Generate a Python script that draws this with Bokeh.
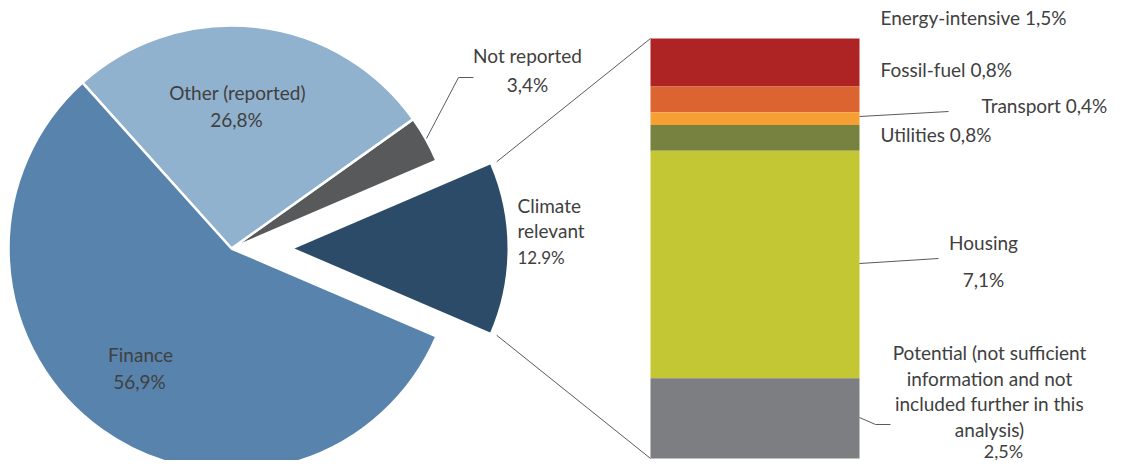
import numpy as np
from bokeh.plotting import figure
from bokeh.models import Range1d
from bokeh.core.properties import value
from bokeh.embed import file_html
from bokeh.resources import INLINE

# ---- data ----
pie_labels = ["Climate relevant", "Not reported", "Other (reported)", "Finance"]
pie_values = [12.9, 3.4, 26.8, 56.9]
pie_pct_text = ["12.9%", "3,4%", "26,8%", "56,9%"]
pie_colors = ["#2B4B69", "#58595B", "#91B2CE", "#5783AC"]

bar_labels = ["Energy-intensive", "Fossil-fuel", "Transport", "Utilities", "Housing",
              "Potential (not sufficient\ninformation and not\nincluded further in this\nanalysis)"]
bar_values = [1.5, 0.8, 0.4, 0.8, 7.1, 2.5]
bar_pct_text = ["1,5%", "0,8%", "0,4%", "0,8%", "7,1%", "2,5%"]
bar_colors = ["#AE2323", "#DC6430", "#F6A033", "#778140", "#C2C733", "#7D7E82"]

# ---- layout (pixel-like data units, y up; H = reference height) ----
H = 476
W, Hf = 1108, 460
X0, Y0 = 5, 3          # reference pixel shown at the figure's top-left corner
FONT = "Lato"
TXT = "#404040"
LINE = "#5a5a5a"

p = figure(width=W, height=Hf, output_backend="svg", toolbar_location=None,
           x_range=Range1d(X0, X0 + W), y_range=Range1d(H - Y0 - Hf, H - Y0),
           min_border=0, outline_line_color=None)
p.axis.visible = False
p.grid.visible = False
p.background_fill_color = "white"
p.border_fill_color = "white"

def Y(yref):
    return H - yref

# pie geometry
cx, cy = 236, Y(251)
R = 223
R_exp = 213
explode = 63

vals = np.array(pie_values, dtype=float)
angs = vals / vals.sum() * 2 * np.pi
start0 = -angs[0] / 2
starts = start0 + np.concatenate([[0], np.cumsum(angs)[:-1]])
ends = starts + angs

# exploded climate slice
mid0 = (starts[0] + ends[0]) / 2
ex, ey = cx + explode * np.cos(mid0), cy + explode * np.sin(mid0)
p.wedge(x=ex, y=ey, radius=R_exp, start_angle=starts[0], end_angle=ends[0],
        fill_color=pie_colors[0], line_color=None)
# other slices
p.wedge(x=[cx] * 3, y=[cy] * 3, radius=R, start_angle=list(starts[1:]), end_angle=list(ends[1:]),
        fill_color=pie_colors[1:], line_color="white", line_width=2.5)

# stacked bar
bx0, bx1 = 655, 864
bar_top = Y(41)
scale = 32.06  # px per percentage point
bv = np.array(bar_values, dtype=float)
tops = bar_top - np.concatenate([[0], np.cumsum(bv)[:-1]]) * scale
bottoms = tops - bv * scale
p.quad(left=bx0, right=bx1, top=list(tops), bottom=list(bottoms),
       fill_color=bar_colors, line_color=None)

# connectors from exploded slice to bar
rc = R_exp + 7
p.line([ex + rc * np.cos(ends[0]), bx0], [ey + rc * np.sin(ends[0]), tops[0]],
       line_color=LINE, line_width=1)
p.line([ex + rc * np.cos(starts[0]), bx0], [ey + rc * np.sin(starts[0]), bottoms[-1]],
       line_color=LINE, line_width=1)

# leader lines
p.line([431, 463, 478], [Y(141), Y(80), Y(80)], line_color=LINE, line_width=1)          # Not reported
p.line([bx1, 953], [Y(119), Y(114)], line_color=LINE, line_width=1)                    # Transport
p.line([bx1, 943], [Y(266), Y(261)], line_color=LINE, line_width=1)                    # Housing
p.line([bx1, 880, 895], [Y(420), Y(427), Y(427)], line_color=LINE, line_width=1)       # Potential

def txt(x, y, s, align="center", size="19px"):
    p.text(x=[x], y=[y], text=[s], text_font=value(FONT), text_font_size=size,
           text_color=TXT, text_align=align, text_baseline="middle")

# pie labels
txt(242, Y(95), pie_labels[2]); txt(241, Y(122), pie_pct_text[2])
txt(532, Y(58), pie_labels[1]); txt(532, Y(87), pie_pct_text[1])
txt(145, Y(357), pie_labels[3]); txt(144, Y(384), pie_pct_text[3])
clim = pie_labels[0].split(" ")
txt(522, Y(208), clim[0], "left"); txt(522, Y(233), clim[1], "left")
txt(522, Y(260), pie_pct_text[0], "left", "17px")

# bar labels
txt(885, Y(20), f"{bar_labels[0]} {bar_pct_text[0]}", "left")
txt(885, Y(72), f"{bar_labels[1]} {bar_pct_text[1]}", "left")
txt(986, Y(108), f"{bar_labels[2]} {bar_pct_text[2]}", "left")
txt(885, Y(137), f"{bar_labels[3]} {bar_pct_text[3]}", "left")
txt(988, Y(245), bar_labels[4]); txt(988, Y(282), bar_pct_text[4])
for i, line in enumerate(bar_labels[5].split("\n")):
    txt(994, Y(355 + 25.5 * i), line)
txt(1008, Y(453), bar_pct_text[5], "center", "18px")

open("out.html", "w").write(file_html(p, INLINE))
